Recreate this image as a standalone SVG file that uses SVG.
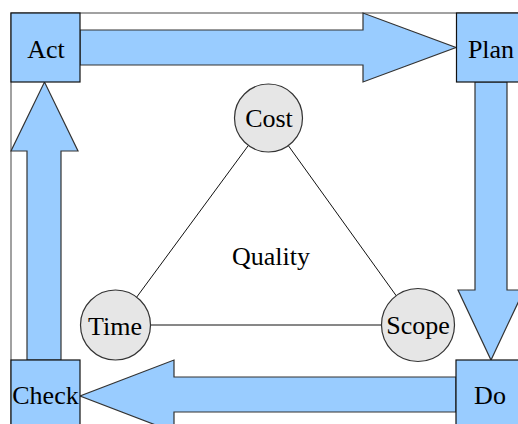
<svg xmlns="http://www.w3.org/2000/svg" width="518" height="424" viewBox="0 0 518 424">
<style>
.box{fill:#99ccff;stroke:#111;stroke-width:1.2}
.arrow{fill:#99ccff;stroke:#333;stroke-width:1.2;stroke-linejoin:miter}
.circ{fill:#e6e6e6;stroke:#333;stroke-width:1.2}
.edge{stroke:#111;stroke-width:1;fill:none}
.lbl{font-family:'Liberation Serif','Times New Roman',Times,serif;font-size:26px;fill:#000;text-anchor:middle}
</style>
<rect x="11" y="13" width="514" height="420" fill="#fff" stroke="#444" stroke-width="1"/>
<g id="connectors">
<polygon class="arrow" points="80,30 363,30 363,13 456,47.5 363,82 363,65 80,65"/>
<polygon class="arrow" points="475,82 507,82 507,290 524,290 491,360 458,290 475,290"/>
<polygon class="arrow" points="456,377 174,377 174,360 80,396 174,432 174,412 456,412"/>
<polygon class="arrow" points="27,360 27,151 11,151 44.5,82 78,151 61,151 61,360"/>
<line class="edge" x1="248.4" y1="145.4" x2="135.6" y2="298.6"/>
<line class="edge" x1="288.3" y1="145.6" x2="397" y2="296.8"/>
<line class="edge" x1="150" y1="325" x2="382" y2="325"/>
</g>
<g id="act"><rect class="box" x="11" y="13" width="69" height="69"/><text class="lbl" x="46" y="58" font-family="Liberation Serif">Act</text></g>
<g id="plan"><rect class="box" x="456.5" y="13" width="69" height="69"/><text class="lbl" x="491" y="58">Plan</text></g>
<g id="check"><rect class="box" x="11" y="360" width="69" height="70"/><text class="lbl" x="45.5" y="404">Check</text></g>
<g id="do"><rect class="box" x="456" y="360" width="69" height="70"/><text class="lbl" x="490" y="404">Do</text></g>
<g id="cost"><circle class="circ" cx="268.5" cy="118" r="34"/><text class="lbl" x="269" y="127">Cost</text></g>
<g id="time"><circle class="circ" cx="115.5" cy="325" r="35"/><text class="lbl" x="115" y="335">Time</text></g>
<g id="scope"><circle class="circ" cx="418" cy="325" r="36.5"/><text class="lbl" x="418" y="334">Scope</text></g>
<g id="quality"><text class="lbl" x="271" y="265">Quality</text></g>
</svg>
